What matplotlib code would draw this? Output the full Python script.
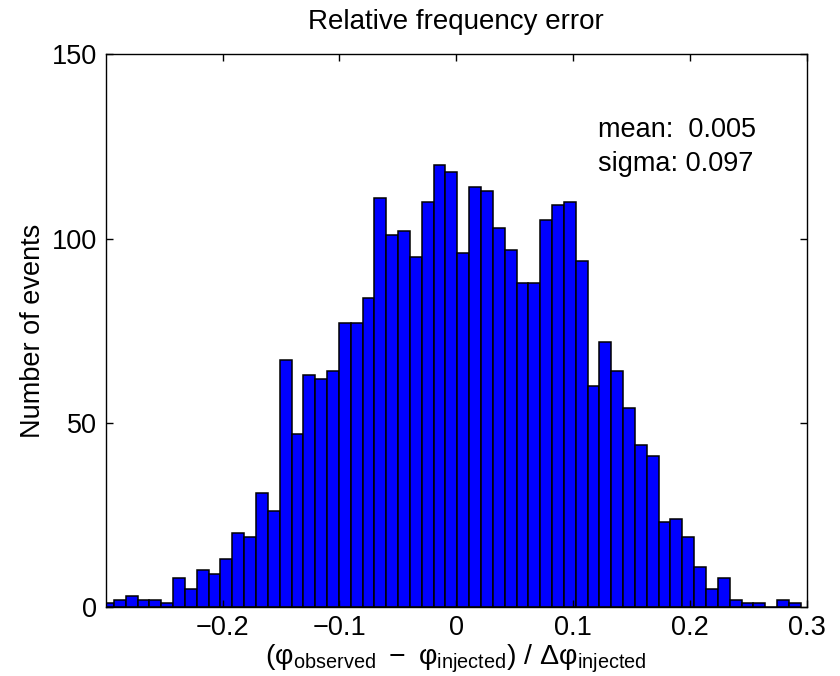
import numpy as np
import matplotlib
matplotlib.use("Agg")
import matplotlib.pyplot as plt

plt.rcParams['font.family'] = ['Liberation Sans', 'DejaVu Sans']
plt.rcParams['mathtext.fontset'] = 'custom'
plt.rcParams['mathtext.rm'] = 'Liberation Sans'
plt.rcParams['mathtext.it'] = 'Liberation Sans:italic'
plt.rcParams['mathtext.bf'] = 'Liberation Sans:bold'

# histogram counts (59 bins)
counts = [1, 2, 3, 2, 2, 1, 8, 5, 10, 9, 13, 20, 19, 31, 26, 67, 47, 63, 62, 64,
          77, 77, 84, 111, 101, 102, 95, 110, 120, 118, 96, 114, 113, 103, 97, 88,
          88, 105, 109, 110, 94, 60, 72, 64, 54, 44, 41, 23, 24, 19, 11, 5, 8, 2,
          1, 1, 0, 2, 1]
bin_lo = -0.3031
bin_w = 0.01013

xticks = [-0.2, -0.1, 0, 0.1, 0.2, 0.3]
xticklabels = ['\u22120.2', '\u22120.1', '0', '0.1', '0.2', '0.3']
yticks = [0, 50, 100, 150]
stats = [('mean:', '0.005'), ('sigma:', '0.097')]

fig = plt.figure(figsize=(8.4, 6.76), dpi=100)
ax = fig.add_axes([0.1258, 0.102, 0.835, 0.8176])

lefts = bin_lo + bin_w * np.arange(len(counts))
ax.bar(lefts, counts, width=bin_w, align='edge', color=(0, 0, 1),
       edgecolor='black', linewidth=1.1)

ax.set_xlim(-0.3, 0.3)
ax.set_ylim(0, 150)
ax.set_xticks(xticks)
ax.set_xticklabels(xticklabels)
ax.set_yticks(yticks)
ax.tick_params(direction='in', length=5, width=1, top=True, right=True,
               labelsize=19.5, pad=6)
for s in ax.spines.values():
    s.set_linewidth(1.0)

ax.set_title('Relative frequency error', fontsize=20, pad=18)
ax.set_ylabel('Number of events', fontsize=19.5)
ax.yaxis.set_label_coords(-0.085, 0.5)
phi = '\u03c6'
xlab = (r'$(\mathrm{' + phi + r'}_{\mathrm{observed}}\ -\ \mathrm{' + phi +
        r'}_{\mathrm{injected}})\ /\ \Delta\mathrm{' + phi + r'}_{\mathrm{injected}}$')
ax.set_xlabel(xlab, fontsize=20.5)
ax.xaxis.set_label_coords(0.5, -0.064)

ax.text(0.121, 127.5, stats[0][0] + '  ' + stats[0][1], fontsize=19.5, va='baseline')
ax.text(0.121, 118.3, stats[1][0] + ' ' + stats[1][1], fontsize=19.5, va='baseline')

fig.savefig('out.png', dpi=100)
